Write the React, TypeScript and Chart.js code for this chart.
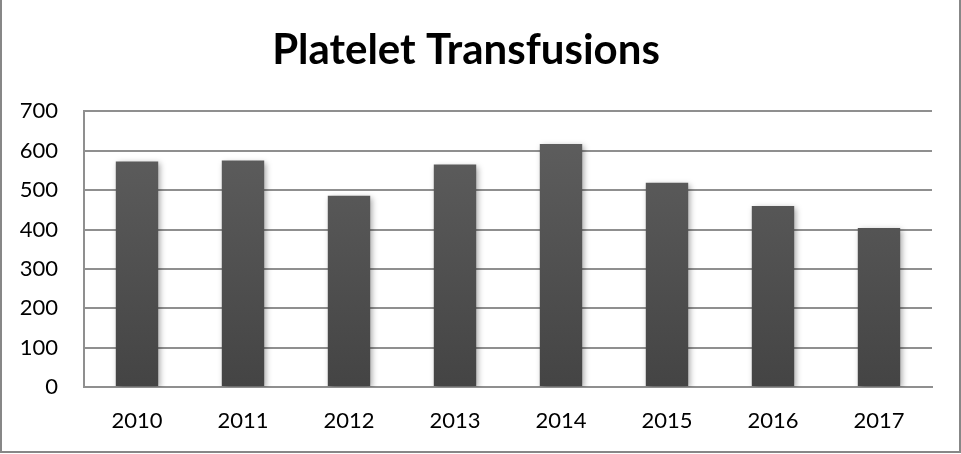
import React, { useEffect, useRef } from "react";
import { Chart, registerables } from "chart.js";

Chart.register(...registerables);

const TITLE = "Platelet Transfusions";
const years = ["2010", "2011", "2012", "2013", "2014", "2015", "2016", "2017"];
const transfusions = [573, 575, 486, 565, 617, 519, 460, 404];
const yMin = 0;
const yMax = 700;
const yStep = 100;

const W = 961;
const H = 454;
const FONT = "Lato, 'Open Sans', sans-serif";

const shadowPlugin = {
  id: "barShadow",
  beforeDatasetDraw(chart: any) {
    const ctx = chart.ctx;
    ctx.save();
    ctx.shadowColor = "rgba(0,0,0,0.35)";
    ctx.shadowBlur = 6;
    ctx.shadowOffsetX = 2;
    ctx.shadowOffsetY = 2;
  },
  afterDatasetDraw(chart: any) {
    chart.ctx.restore();
  },
};

export default function App() {
  const ref = useRef<HTMLCanvasElement | null>(null);

  useEffect(() => {
    if (!ref.current) return;
    const chart = new Chart(ref.current, {
      type: "bar",
      data: {
        labels: years,
        datasets: [
          {
            data: transfusions,
            backgroundColor: (c: any) => {
              const area = c.chart.chartArea;
              if (!area) return "#555";
              const g = c.chart.ctx.createLinearGradient(0, area.top, 0, area.bottom);
              g.addColorStop(0, "#606060");
              g.addColorStop(1, "#444444");
              return g;
            },
            borderWidth: 0,
            categoryPercentage: 1,
            barPercentage: 0.4,
          },
        ],
      },
      options: {
        animation: false,
        responsive: false,
        devicePixelRatio: 1,
        layout: { padding: { left: 0, right: 29, top: 0, bottom: 0 } },
        plugins: {
          legend: { display: false },
          tooltip: { enabled: false },
          title: {
            display: true,
            text: TITLE,
            color: "#000",
            font: { family: FONT, size: 42, weight: "bold" },
            padding: { top: 25, bottom: 36 },
          },
        },
        scales: {
          x: {
            grid: { display: false, drawTicks: false },
            border: { display: true, color: "#8f8f8f", width: 2 },
            ticks: { color: "#000", font: { family: FONT, size: 22 }, padding: 21 },
            afterFit: (s: any) => {
              s.height = H - 387;
            },
          },
          y: {
            min: yMin,
            max: yMax,
            grid: { color: "#8f8f8f", lineWidth: 2, drawTicks: false },
            border: { display: true, color: "#8f8f8f", width: 2 },
            ticks: {
              stepSize: yStep,
              color: "#000",
              font: { family: FONT, size: 22 },
              padding: 26,
            },
            afterFit: (s: any) => {
              s.width = 84;
            },
          },
        },
      },
      plugins: [shadowPlugin],
    } as any);
    return () => chart.destroy();
  }, []);

  return (
    <div style={{ position: "fixed", left: 0, top: 0, width: W, height: H, background: "#fff" }}>
      <canvas ref={ref} width={W} height={H} style={{ position: "absolute", left: 0, top: 0 }} />
      <div
        style={{
          position: "absolute",
          left: 0,
          top: 0,
          width: W,
          height: H - 1,
          boxSizing: "border-box",
          borderLeft: "2px solid #878787",
          borderRight: "2px solid #878787",
          borderBottom: "2px solid #878787",
          pointerEvents: "none",
        }}
      />
    </div>
  );
}
